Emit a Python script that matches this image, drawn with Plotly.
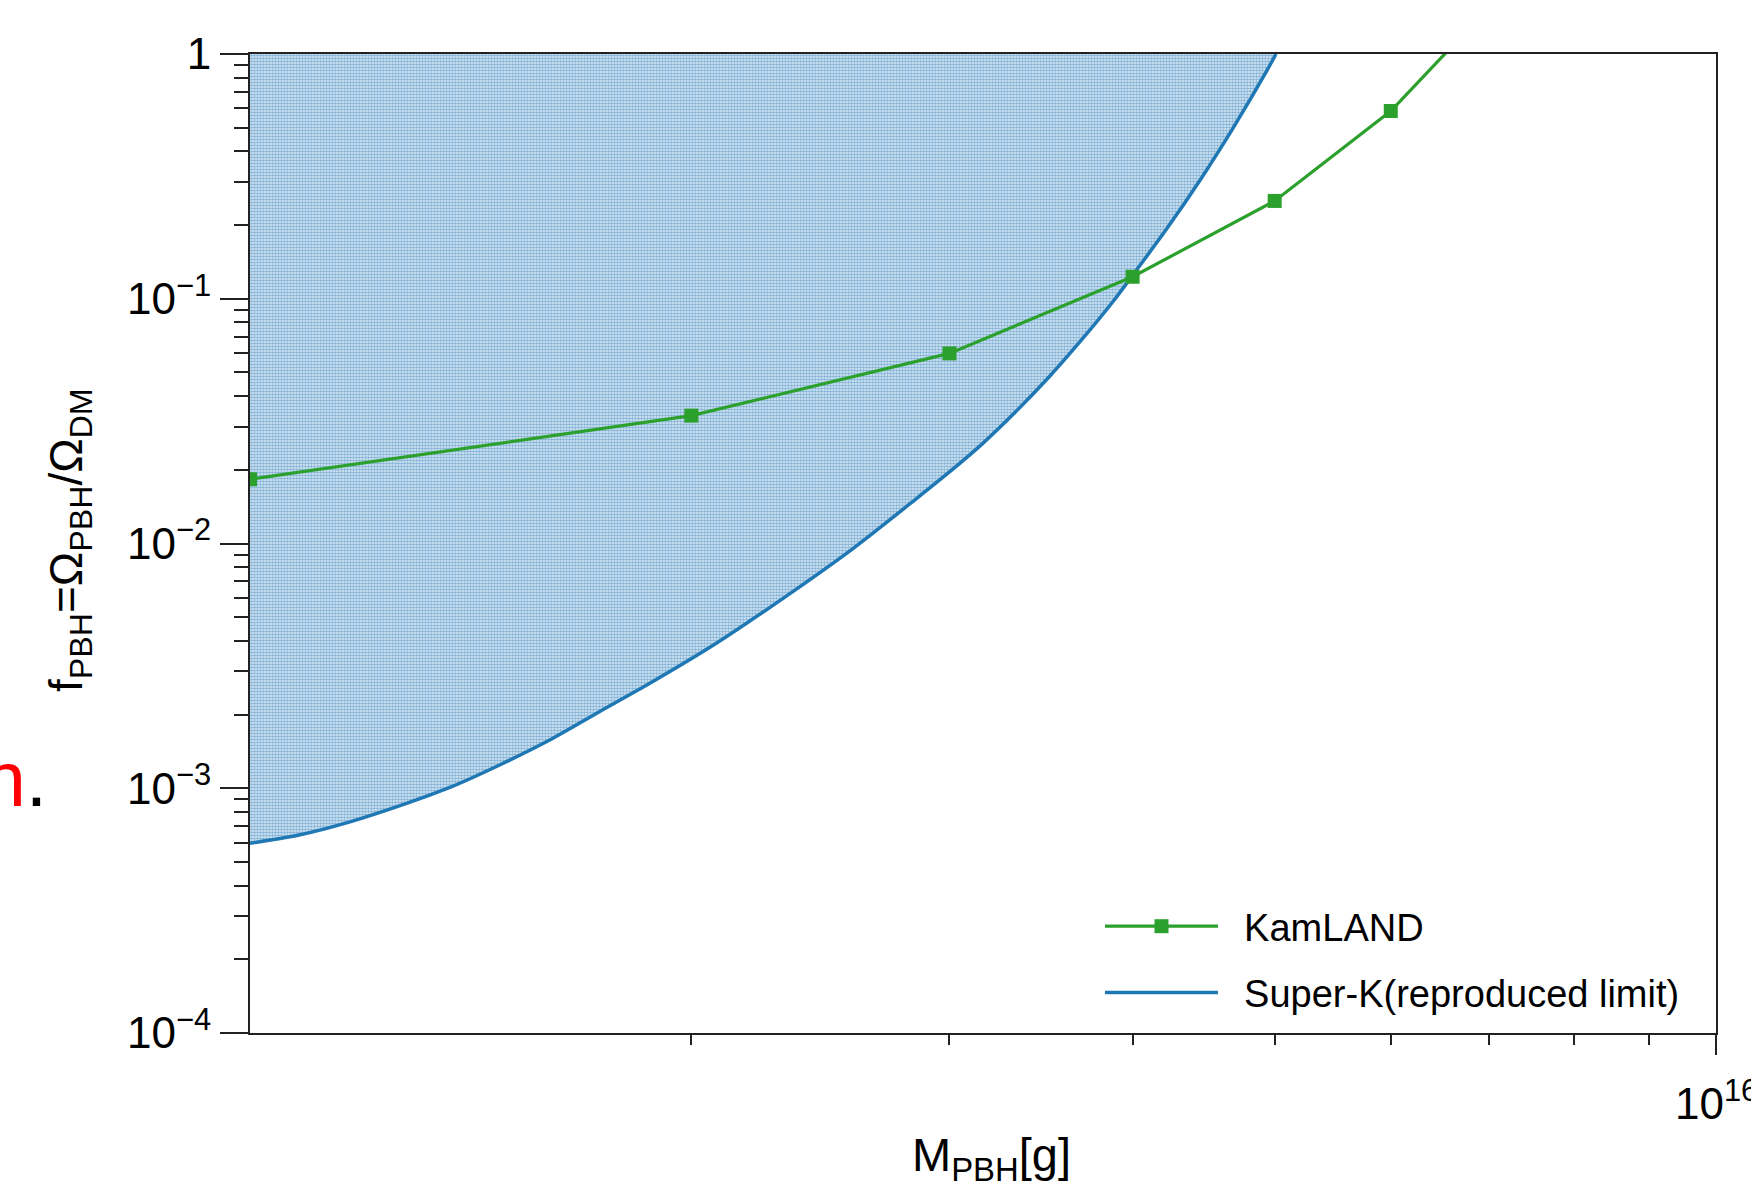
import plotly.graph_objects as go

# ---------------- data ----------------
kam_mass = [1e15, 2e15, 3e15, 4e15, 5e15, 6e15, 7e15]
kam_f = [0.0183, 0.0333, 0.0598, 0.123, 0.251, 0.585, 1.55]

sk_mass = [1.00e15, 1.08e15, 1.17e15, 1.27e15, 1.37e15, 1.48e15, 1.60e15,
           1.73e15, 1.875e15, 2.08e15, 2.31e15, 2.57e15, 2.85e15, 3.00e15,
           3.16e15, 3.33e15, 3.51e15, 3.70e15, 3.88e15, 4.00e15, 4.22e15,
           4.45e15, 4.69e15, 4.94e15, 5.01e15]
sk_f = [5.96e-4, 6.44e-4, 7.29e-4, 8.55e-4, 1.01e-3, 1.245e-3, 1.57e-3,
        2.05e-3, 2.69e-3, 3.91e-3, 5.97e-3, 9.40e-3, 1.53e-2, 1.96e-2,
        2.56e-2, 3.46e-2, 4.81e-2, 6.90e-2, 9.77e-2, 0.1247, 0.193,
        0.307, 0.505, 0.857, 1.0]

x_range = [1e15, 1e16]
y_range = [1e-4, 1.0]
y_tick_vals = [1e-4, 1e-3, 1e-2, 1e-1, 1.0]
y_tick_text = ["10<sup>\u22124</sup>", "10<sup>\u22123</sup>", "10<sup>\u22122</sup>",
               "10<sup>\u22121</sup>", "1"]
x_tick_vals = [1e16]
x_tick_text = ["10<sup>16</sup>"]

# ---------------- layout geometry ----------------
W, H = 1751, 1188
L, R, T, B = 250, 35, 54, 155
PW, PH = W - L - R, H - T - B


def px_x(p):
    return (p - L) / PW


def px_y(p):
    return (H - B - p) / PH


FONT = "Liberation Sans, Arial, Helvetica, sans-serif"
GREEN = "#2ca02c"
BLUE = "#1f77b4"
AXC = "#222222"
NB = "\u00a0\u00a0"

fig = go.Figure()

# shaded excluded region above the Super-K curve
fig.add_trace(go.Scatter(
    x=sk_mass + [x_range[0]],
    y=sk_f + [y_range[1]],
    mode="lines", fill="toself",
    line=dict(width=0, color=BLUE, shape="spline", smoothing=0.8),
    fillcolor="rgba(255,255,255,0)",
    fillpattern=dict(shape=".", fgcolor=BLUE, bgcolor="#e2edf7", size=3, solidity=0.6),
    showlegend=False, hoverinfo="skip",
))

fig.add_trace(go.Scatter(
    x=sk_mass, y=sk_f, mode="lines",
    name=NB + "Super-K(reproduced limit)",
    line=dict(color=BLUE, width=3.5, shape="spline", smoothing=0.8),
    legendgroup="sk", legendrank=2,
))

fig.add_trace(go.Scatter(
    x=kam_mass, y=kam_f, mode="lines+markers",
    name=NB + "KamLAND",
    line=dict(color=GREEN, width=3.2),
    marker=dict(symbol="square", size=14, color=GREEN),
    legendgroup="kam", legendrank=1,
))

minor_y = [m * 10.0 ** e for e in range(-4, 0) for m in range(2, 10)]
minor_x = [m * x_range[0] for m in range(2, 10)]

fig.update_layout(
    width=W, height=H, autosize=False,
    margin=dict(l=L, r=R, t=T, b=B, pad=0),
    paper_bgcolor="white", plot_bgcolor="white",
    font=dict(family=FONT, color="black", size=38),
    showlegend=True,
    legend=dict(
        x=px_x(1100), y=px_y(895), xanchor="left", yanchor="top",
        bgcolor="rgba(0,0,0,0)", borderwidth=0,
        font=dict(family=FONT, size=38, color="black"),
        tracegroupgap=14, traceorder="grouped", itemwidth=113,
    ),
    xaxis=dict(
        type="log", range=[15, 16], automargin=False,
        showgrid=False, zeroline=False,
        showline=True, linecolor=AXC, linewidth=2, mirror=True,
        ticks="outside", ticklen=20, tickwidth=2, tickcolor=AXC,
        tickvals=x_tick_vals, ticktext=x_tick_text, showticklabels=False,
        minor=dict(tickvals=minor_x, ticks="outside", ticklen=10, tickwidth=2,
                   tickcolor=AXC, showgrid=False),
    ),
    yaxis=dict(
        type="log", range=[-4, 0], automargin=False,
        showgrid=False, zeroline=False,
        showline=True, linecolor=AXC, linewidth=2, mirror=True,
        ticks="outside", ticklen=28, tickwidth=2, tickcolor=AXC,
        tickvals=y_tick_vals, ticktext=y_tick_text,
        tickfont=dict(family=FONT, size=44, color="black"),
        minor=dict(tickvals=minor_y, ticks="outside", ticklen=14, tickwidth=2,
                   tickcolor=AXC, showgrid=False),
    ),
    annotations=[
        # x tick label at 10^16
        dict(x=16, xref="x", y=px_y(1100), yref="paper", text=x_tick_text[0],
             showarrow=False, xanchor="center", yanchor="middle",
             font=dict(family=FONT, size=44, color="black")),
        # x title
        dict(x=px_x(991), xref="paper", y=px_y(1158), yref="paper",
             text="M<sub>PBH</sub>[g]", showarrow=False,
             xanchor="center", yanchor="middle",
             font=dict(family=FONT, size=47, color="black")),
        # y title
        dict(x=px_x(69), xref="paper", y=px_y(540), yref="paper",
             text="f<sub>PBH</sub>=\u03a9<sub>PBH</sub>/\u03a9<sub>DM</sub>",
             textangle=-90, showarrow=False,
             xanchor="center", yanchor="middle",
             font=dict(family=FONT, size=46, color="black")),
        # cropped slide text at the left edge
        dict(x=px_x(-19), xref="paper", y=px_y(824), yref="paper",
             text="<span style='color:red'>n</span>.", showarrow=False,
             xanchor="left", yanchor="bottom",
             font=dict(family=FONT, size=77, color="black")),
    ],
)

fig.write_html("out.html")
